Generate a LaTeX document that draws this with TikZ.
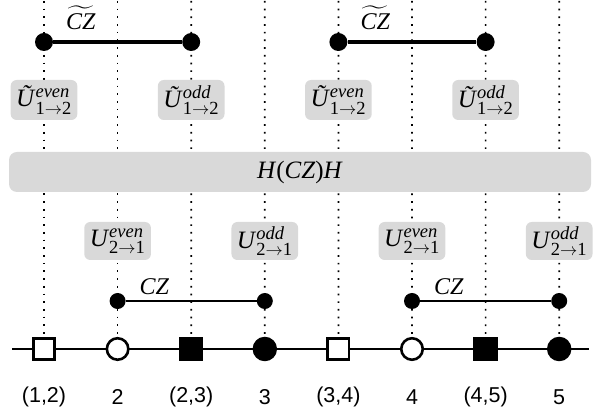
\documentclass[tikz,border=0pt]{standalone}
\usepackage{amsmath}
\usepackage{fontspec}
\setmainfont{Liberation Serif}
\newfontfamily\sansf{Liberation Sans}
\DeclareMathSizes{25}{25}{18.5}{13}
\DeclareMathSizes{24}{24}{17.5}{13}
\usetikzlibrary{backgrounds,calc}
\newcommand{\UtLab}[3]{\textit{Ũ}$^{\text{\itshape #1}}_{\text{#2}\to\text{#3}}$}
\newcommand{\ULab}[3]{\textit{U}$^{\text{\itshape #1}}_{\text{#2}\to\text{#3}}$}
\tikzset{
  grid/.style={line width=1.7pt, dash pattern=on 1.7pt off 6pt},
  gbox/.style={fill=gray!30, rounded corners=6pt, inner xsep=5.5pt, inner ysep=2pt,
    minimum height=40pt, font=\fontsize{25}{27}\selectfont},
  bigdot/.style={circle, fill=black, inner sep=0pt, minimum size=18pt},
  smalldot/.style={circle, fill=black, inner sep=0pt, minimum size=16pt},
  osq/.style={draw, line width=2.6pt, fill=white, minimum size=21.5pt, inner sep=0pt},
  fsq/.style={fill=black, minimum size=24.5pt, inner sep=0pt},
  ocirc/.style={circle, draw, line width=2.6pt, fill=white, minimum size=21.5pt, inner sep=0pt},
  fcirc/.style={circle, fill=black, minimum size=24.5pt, inner sep=0pt},
  poslab/.style={font=\sansf\fontsize{21.5}{24}\selectfont, inner sep=0pt},
  gatelab/.style={font=\fontsize{24}{26}\selectfont, inner sep=0pt, anchor=base},
  ugate/.style={line width=3.3pt},
  lgate/.style={line width=2.8pt},
}
\begin{document}
\begin{tikzpicture}[x=1pt,y=1pt]
\useasboundingbox (0,0) rectangle (608,417);
% column tops
\foreach \i in {0,...,7} \coordinate (t\i) at (44+73.6*\i,416);
\coordinate (L) at (12,68);
\coordinate (R) at (589,68);
% bottom sites
\node[osq]   (s0) at (44,68) {};
\node[ocirc] (s1) at (117.6,68) {};
\node[fsq]   (s2) at (191.2,68) {};
\node[fcirc] (s3) at (264.8,68) {};
\node[osq]   (s4) at (338.4,68) {};
\node[ocirc] (s5) at (412,68) {};
\node[fsq]   (s6) at (485.6,68) {};
\node[fcirc] (s7) at (559.2,68) {};
% labels
\node[poslab] (l0) at (44,20) {(1,2)};
\node[poslab] (l1) at (117.6,20) {2};
\node[poslab] (l2) at (191.2,20) {(2,3)};
\node[poslab] (l3) at (264.8,20) {3};
\node[poslab] (l4) at (338.4,20) {(3,4)};
\node[poslab] (l5) at (412,20) {4};
\node[poslab] (l6) at (485.6,20) {(4,5)};
\node[poslab] (l7) at (559.2,20) {5};
% upper gates
\node[bigdot] (a0) at (44,375) {};
\node[bigdot] (a2) at (191.2,375) {};
\node[bigdot] (a4) at (338.4,375) {};
\node[bigdot] (a6) at (485.6,375) {};
\draw[ugate] (a0) -- (a2);
\draw[ugate] (a4) -- (a6);
\node[gatelab] (ca) at ($(a0)!0.25!(a2)+(0,12.5)$) {$\widetilde{\text{\itshape CZ}}$};
\node[gatelab] (cb) at ($(a4)!0.25!(a6)+(0,12.5)$) {$\widetilde{\text{\itshape CZ}}$};
% upper boxes
\node[gbox] (u0) at (44,317) {\UtLab{even}{1}{2}};
\node[gbox] (u2) at (191.2,317) {\UtLab{odd}{1}{2}};
\node[gbox] (u4) at (338.4,317) {\UtLab{even}{1}{2}};
\node[gbox] (u6) at (485.6,317) {\UtLab{odd}{1}{2}};
% H bar
\node[gbox, minimum width=582pt, minimum height=40pt, rounded corners=8pt] (hb) at (300,245) {\textit{H}(\textit{CZ})\textit{H}};
% lower boxes
\node[gbox, minimum height=38pt] (d1) at (117.6,176) {\ULab{even}{2}{1}};
\node[gbox, minimum height=38pt] (d3) at (264.8,176) {\ULab{odd}{2}{1}};
\node[gbox, minimum height=38pt] (d5) at (412,176) {\ULab{even}{2}{1}};
\node[gbox, minimum height=38pt] (d7) at (559.2,176) {\ULab{odd}{2}{1}};
% lower gates
\node[smalldot] (b1) at (117.6,116) {};
\node[smalldot] (b3) at (264.8,116) {};
\node[smalldot] (b5) at (412,116) {};
\node[smalldot] (b7) at (559.2,116) {};
\draw[lgate] (b1) -- (b3);
\draw[lgate] (b5) -- (b7);
\node[gatelab] (cc) at ($(b1)!0.25!(b3)+(0,6.5)$) {\textit{CZ}};
\node[gatelab] (cd) at ($(b5)!0.25!(b7)+(0,6.5)$) {\textit{CZ}};
% background lines
\begin{pgfonlayer}{background}
  \draw[line width=1.5pt] (L) -- (R);
  \foreach \i in {0,...,7} \draw[grid] (t\i) -- (s\i.north);
\end{pgfonlayer}
\end{tikzpicture}
\end{document}
